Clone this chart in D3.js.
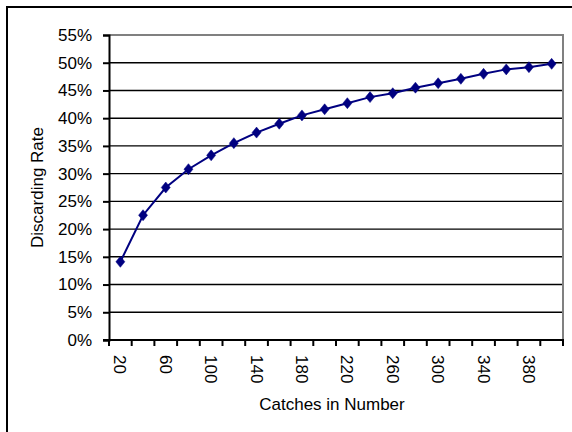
<!DOCTYPE html>
<html><head><meta charset="utf-8">
<script src="https://cdn.jsdelivr.net/npm/d3@7"></script>
<style>body{margin:0;background:#fff}svg{display:block}text{font-family:"Liberation Sans",Arial,sans-serif;fill:#000}</style>
</head><body>
<svg id="c" width="572" height="432"></svg>
<script>
const categories = [20,40,60,80,100,120,140,160,180,200,220,240,260,280,300,320,340,360,380,400];
const discardRate = [14.1,22.5,27.5,30.8,33.3,35.5,37.4,39.0,40.5,41.6,42.7,43.8,44.5,45.5,46.3,47.1,48.0,48.8,49.2,49.8];
const yTicks = [0,5,10,15,20,25,30,35,40,45,50,55];
const xLabels = [20,60,100,140,180,220,260,300,340,380];

const svg = d3.select("#c");
const L=109, R=563, T=35, B=340;
const x = d3.scaleBand().domain(categories).range([L,R]);
const y = d3.scaleLinear().domain([0,55]).range([B,T]);

// outer frame
svg.append("rect").attr("x",7).attr("y",7).attr("width",700).attr("height",600)
  .attr("fill","none").attr("stroke","#000").attr("stroke-width",2);

// gridlines
svg.append("g").selectAll("line").data(yTicks.filter(d=>d>0&&d<55)).join("line")
  .attr("x1",L).attr("x2",R).attr("y1",d=>y(d)).attr("y2",d=>y(d))
  .attr("stroke","#000").attr("stroke-width",1.4);
// plot area top/right border (gray)
svg.append("path").attr("d",`M${L},${y(55)}H${R}V${B}`).attr("fill","none")
  .attr("stroke","#808080").attr("stroke-width",2);

// y axis
const yAxis = svg.append("g").attr("transform",`translate(${L},0)`)
  .call(d3.axisLeft(y).tickValues(yTicks).tickSize(6).tickPadding(11).tickFormat(d=>d+"%"));
yAxis.select(".domain").attr("stroke","#000").attr("stroke-width",2);
yAxis.selectAll(".tick line").attr("stroke","#000").attr("stroke-width",2);
yAxis.selectAll("text").attr("font-size",17).attr("font-family","Liberation Sans, Arial, sans-serif").attr("fill","#000");

// x axis: ticks at category boundaries
const bounds = categories.map(c=>x(c)).concat([R]);
svg.append("line").attr("x1",L-6).attr("x2",R+1).attr("y1",B).attr("y2",B)
  .attr("stroke","#000").attr("stroke-width",2);
svg.append("g").selectAll("line").data(bounds).join("line")
  .attr("x1",d=>d).attr("x2",d=>d).attr("y1",B).attr("y2",B+6)
  .attr("stroke","#000").attr("stroke-width",2);
svg.append("g").selectAll("text").data(xLabels).join("text")
  .attr("transform",d=>`translate(${x(d)+x.bandwidth()/2},${B+15}) rotate(90)`)
  .attr("dy","0.35em").attr("text-anchor","start").attr("font-size",17)
  .text(d=>d);

// axis titles
svg.append("text").attr("x",(L+R)/2-4).attr("y",410).attr("text-anchor","middle")
  .attr("font-size",17).text("Catches in Number");
svg.append("text").attr("transform",`translate(43,${(T+B)/2}) rotate(-90)`)
  .attr("text-anchor","middle").attr("font-size",17).text("Discarding Rate");

// series
const cx = d=>x(d)+x.bandwidth()/2;
const pts = categories.map((c,i)=>[cx(c), y(discardRate[i])]);
svg.append("path").attr("d",d3.line()(pts)).attr("fill","none")
  .attr("stroke","#000080").attr("stroke-width",2);
svg.append("g").selectAll("path").data(pts).join("path")
  .attr("d",d=>`M${d[0]},${d[1]-5.5}L${d[0]+4.5},${d[1]}L${d[0]},${d[1]+5.5}L${d[0]-4.5},${d[1]}Z`)
  .attr("fill","#000080").attr("stroke","#000080").attr("stroke-width",0.5);
</script>
</body></html>
